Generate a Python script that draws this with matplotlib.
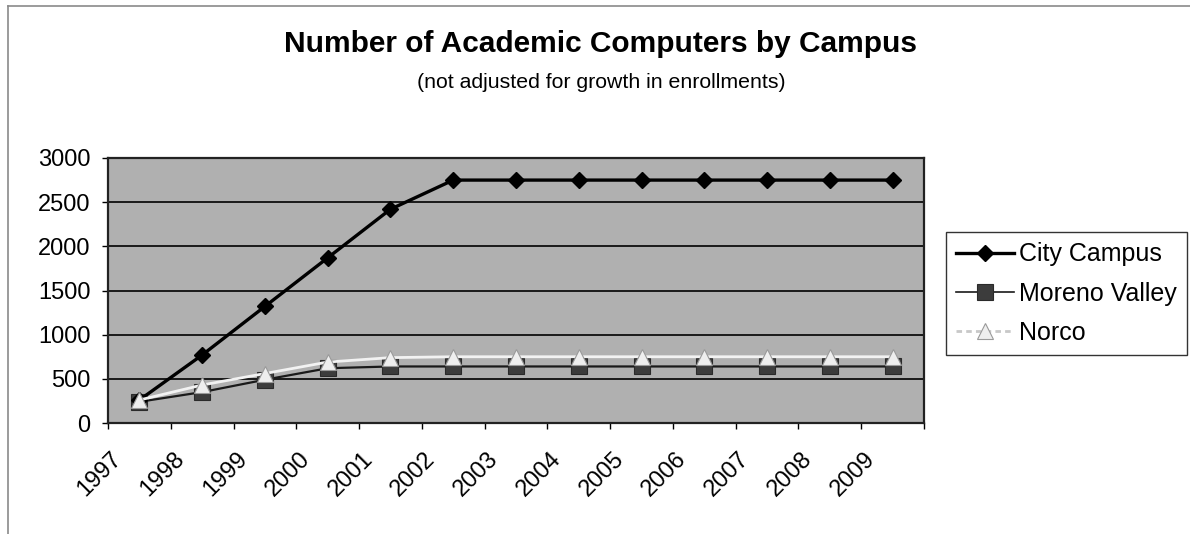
import matplotlib
matplotlib.use("Agg")
import matplotlib.pyplot as plt
from matplotlib.transforms import ScaledTranslation
from matplotlib.lines import Line2D

years = ["1997", "1998", "1999", "2000", "2001", "2002", "2003",
         "2004", "2005", "2006", "2007", "2008", "2009"]
city_campus = [260, 770, 1320, 1870, 2420, 2750, 2750, 2750, 2750, 2750, 2750, 2750, 2750]
moreno_valley = [240, 350, 490, 620, 640, 640, 640, 640, 640, 640, 640, 640, 640]
norco = [260, 430, 560, 690, 740, 750, 750, 750, 750, 750, 750, 750, 750]
y_ticks = [0, 500, 1000, 1500, 2000, 2500, 3000]

title = "Number of Academic Computers by Campus"
subtitle = "(not adjusted for growth in enrollments)"

plt.rcParams['font.family'] = ['Liberation Sans', 'DejaVu Sans']

W, H = 1190, 534
fig = plt.figure(figsize=(W / 100, H / 100), dpi=100)
fig.patch.set_facecolor('white')

L, R, T, B = 108, 924, 158, 423
ax = fig.add_axes([L / W, 1 - B / H, (R - L) / W, (B - T) / H])
ax.set_facecolor('#b0b0b0')

x = list(range(len(years)))

ax.plot(x, city_campus, color='black', lw=2.4, marker='D', ms=7.8,
        mfc='black', mec='black', zorder=4, label='City Campus')
ax.plot(x, moreno_valley, color='#1a1a1a', lw=1.6, marker='s', ms=12,
        mfc='#3c3c3c', mec='#2a2a2a', mew=0.8, zorder=3, label='Moreno Valley')
ax.plot(x, norco, color='#f2f2f2', lw=2.0, marker='^', ms=12,
        mfc='#eeeeee', mec='#9a9a9a', mew=0.8, zorder=5, label='Norco')

ax.set_xlim(-0.5, len(years) - 0.5)
ax.set_ylim(0, 3000)
ax.set_yticks(y_ticks)
ax.set_yticklabels([str(v) for v in y_ticks])
ax.yaxis.grid(True, color='black', lw=1.2)
ax.set_axisbelow(True)

ax.set_xticks(x)
ax.set_xticklabels(years, rotation=45, ha='right', va='center',
                   rotation_mode='anchor')
ax.set_xticks([i - 0.5 for i in range(len(years) + 1)], minor=True)
ax.tick_params(axis='x', which='major', length=0, pad=23.5, labelsize=17)
ax.tick_params(axis='x', which='minor', length=4.5, width=1, direction='out',
               color='black')
ax.tick_params(axis='y', length=4.5, width=1, direction='out', pad=8,
               labelsize=17, color='black')
off = ScaledTranslation(-21 / 100, 0, fig.dpi_scale_trans)
for lbl in ax.get_xticklabels():
    lbl.set_transform(lbl.get_transform() + off)

for s in ax.spines.values():
    s.set_color('#222222')
    s.set_linewidth(1.6)

fig.text(601 / W, 1 - 51.7 / H, title, ha='center', va='baseline',
         fontsize=21.5, fontweight='bold')
fig.text(601 / W, 1 - 87.7 / H, subtitle, ha='center', va='baseline',
         fontsize=15.3)

leg = fig.legend(loc='upper left', bbox_to_anchor=(946 / W, 1 - 232 / H),
                 bbox_transform=fig.transFigure, fontsize=18,
                 frameon=True, fancybox=False, edgecolor='black',
                 handlelength=2.3, handletextpad=0.2, borderpad=0.42,
                 labelspacing=0.6, borderaxespad=0)
leg.get_frame().set_linewidth(1.0)
for h in leg.get_lines():
    if h.get_label() == 'Norco':
        h.set_color('#c8c8c8')
        h.set_linestyle((0, (2, 1.5)))
    if h.get_label() == 'Moreno Valley':
        h.set_linewidth(1.2)

# chart-area border (top and left)
fig.add_artist(Line2D([8 / W, 1], [1 - 6 / H, 1 - 6 / H], transform=fig.transFigure,
                      color='#8a8a8a', lw=1.2))
fig.add_artist(Line2D([8 / W, 8 / W], [0, 1 - 6 / H], transform=fig.transFigure,
                      color='#8a8a8a', lw=1.2))

fig.savefig('out.png', dpi=100)
